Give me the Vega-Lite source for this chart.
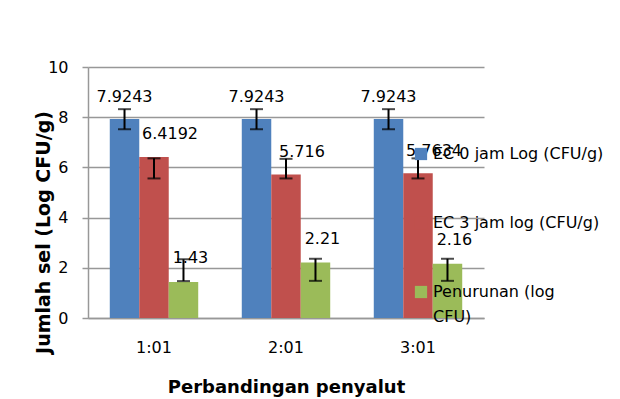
{
  "$schema": "https://vega.github.io/schema/vega-lite/v6.json",
  "width": 396,
  "height": 251,
  "autosize": {"type": "none"},
  "padding": {"left": 88, "top": 67, "right": 136, "bottom": 81},
  "background": "white",
  "config": {"view": {"stroke": null}, "font": "DejaVu Sans"},
  "data": {
    "values": [
      {"cat": "1:01", "series": "EC 0 jam Log (CFU/g)", "value": 7.9243, "lo": 7.52, "hi": 8.32},
      {"cat": "1:01", "series": "EC 3 jam log (CFU/g)", "value": 6.4192, "lo": 5.56, "hi": 6.36},
      {"cat": "1:01", "series": "Penurunan (log CFU)", "value": 1.43, "lo": 1.47, "hi": 2.34},
      {"cat": "2:01", "series": "EC 0 jam Log (CFU/g)", "value": 7.9243, "lo": 7.52, "hi": 8.32},
      {"cat": "2:01", "series": "EC 3 jam log (CFU/g)", "value": 5.716, "lo": 5.56, "hi": 6.34},
      {"cat": "2:01", "series": "Penurunan (log CFU)", "value": 2.21, "lo": 1.48, "hi": 2.36},
      {"cat": "3:01", "series": "EC 0 jam Log (CFU/g)", "value": 7.9243, "lo": 7.52, "hi": 8.32},
      {"cat": "3:01", "series": "EC 3 jam log (CFU/g)", "value": 5.7634, "lo": 5.56, "hi": 6.36},
      {"cat": "3:01", "series": "Penurunan (log CFU)", "value": 2.16, "lo": 1.48, "hi": 2.36}
    ]
  },
  "encoding": {
    "x": {
      "field": "cat",
      "type": "nominal",
      "scale": {"paddingInner": 0.33, "paddingOuter": 0.165},
      "axis": {
        "title": "Perbandingan penyalut",
        "labelAngle": 0,
        "ticks": false,
        "tickSize": 0,
        "grid": false,
        "domainColor": "#989898",
        "domainWidth": 1.5,
        "labelFont": "DejaVu Sans",
        "labelFontSize": 16,
        "labelColor": "black",
        "labelPadding": 21,
        "titleFont": "DejaVu Sans",
        "titleFontWeight": "bold",
        "titleFontSize": 18,
        "titleColor": "black",
        "titleY": 74,
        "titleBaseline": "alphabetic"
      }
    },
    "xOffset": {
      "field": "series",
      "type": "nominal",
      "sort": ["EC 0 jam Log (CFU/g)", "EC 3 jam log (CFU/g)", "Penurunan (log CFU)"],
      "scale": {"paddingInner": 0, "paddingOuter": 0}
    }
  },
  "layer": [
    {
      "mark": {"type": "bar"},
      "encoding": {
        "y": {
          "field": "value",
          "type": "quantitative",
          "title": "Jumlah sel (Log CFU/g)",
          "scale": {"domain": [0, 10]},
          "axis": {
            "values": [0, 2, 4, 6, 8, 10],
            "grid": true,
            "gridColor": "#989898",
            "gridWidth": 1.5,
            "domainColor": "#989898",
            "domainWidth": 1.5,
            "tickColor": "#989898",
            "tickWidth": 1.5,
            "tickSize": 6,
            "labelFont": "DejaVu Sans",
            "labelFontSize": 16,
            "labelColor": "black",
            "labelPadding": 14,
            "titleFont": "DejaVu Sans",
            "titleFontWeight": "bold",
            "titleFontSize": 19,
            "titleColor": "black",
            "titleX": -39,
            "titleY": 165,
            "titleAngle": -90,
            "titleAlign": "center",
            "titleBaseline": "alphabetic"
          }
        },
        "color": {
          "field": "series",
          "type": "nominal",
          "scale": {
            "domain": ["EC 0 jam Log (CFU/g)", "EC 3 jam log (CFU/g)", "Penurunan (log CFU)"],
            "range": ["#4F81BD", "#C0504D", "#9BBB59"]
          },
          "legend": {
            "title": null,
            "orient": "none",
            "legendX": 325,
            "legendY": 79,
            "direction": "vertical",
            "padding": 0,
            "symbolType": "square",
            "symbolSize": 150,
            "symbolStrokeWidth": 0,
            "labelFont": "DejaVu Sans",
            "labelFontSize": 16,
            "labelColor": "black",
            "labelOffset": 4,
            "labelLimit": 400,
            "rowPadding": 52,
            "labelBaseline": "line-top",
            "labelExpr": "datum.label == 'Penurunan (log CFU)' ? ['Penurunan (log', 'CFU)'] : datum.label",
            "encode": {"labels": {"update": {"lineHeight": {"value": 25}, "dy": {"value": -12.5}}}}
          }
        }
      }
    },
    {
      "mark": {"type": "rule", "color": "black", "strokeWidth": 2},
      "encoding": {
        "y": {"field": "lo", "type": "quantitative", "title": "Jumlah sel (Log CFU/g)"},
        "y2": {"field": "hi"}
      }
    },
    {
      "mark": {"type": "tick", "color": "black", "thickness": 2, "size": 13},
      "encoding": {"y": {"field": "lo", "type": "quantitative", "title": "Jumlah sel (Log CFU/g)"}}
    },
    {
      "mark": {"type": "tick", "color": "black", "thickness": 2, "size": 13},
      "encoding": {"y": {"field": "hi", "type": "quantitative", "title": "Jumlah sel (Log CFU/g)"}}
    },
    {
      "transform": [{"filter": "datum.series == 'EC 0 jam Log (CFU/g)'"}],
      "mark": {"type": "text", "font": "DejaVu Sans", "fontSize": 16, "color": "black", "baseline": "alphabetic", "dy": -17.5, "dx": 0},
      "encoding": {
        "y": {"field": "value", "type": "quantitative", "title": "Jumlah sel (Log CFU/g)"},
        "text": {"field": "value", "type": "nominal"}
      }
    },
    {
      "transform": [{"filter": "datum.series == 'EC 3 jam log (CFU/g)'"}],
      "mark": {"type": "text", "font": "DejaVu Sans", "fontSize": 16, "color": "black", "baseline": "alphabetic", "dy": -17.5, "dx": 16},
      "encoding": {
        "y": {"field": "value", "type": "quantitative", "title": "Jumlah sel (Log CFU/g)"},
        "text": {"field": "value", "type": "nominal"}
      }
    },
    {
      "transform": [{"filter": "datum.series == 'Penurunan (log CFU)'"}],
      "mark": {"type": "text", "font": "DejaVu Sans", "fontSize": 16, "color": "black", "baseline": "alphabetic", "dy": -19, "dx": 7},
      "encoding": {
        "y": {"field": "value", "type": "quantitative", "title": "Jumlah sel (Log CFU/g)"},
        "text": {"field": "value", "type": "nominal"}
      }
    }
  ]
}
